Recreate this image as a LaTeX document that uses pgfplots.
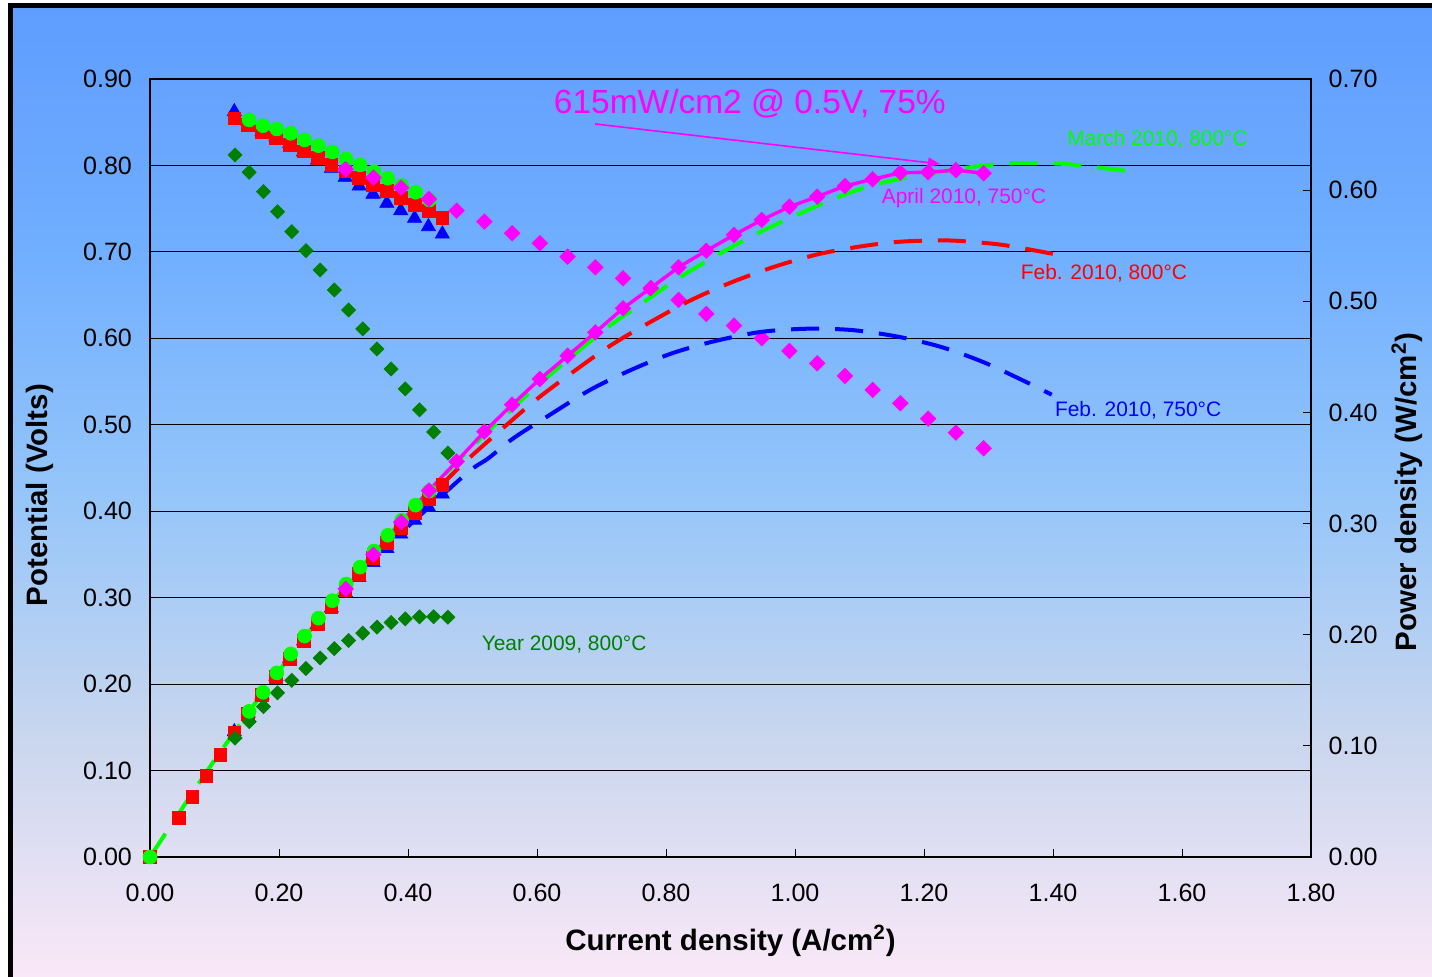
\documentclass[border=0pt]{standalone}
\usepackage{pgfplots}
\pgfplotsset{compat=1.18}
\usepackage{fontspec}
\setmainfont{Liberation Sans}
\usetikzlibrary{arrows.meta}
\definecolor{bgtop}{RGB}{95,157,255}
\definecolor{bgq3}{RGB}{112,174,255}
\definecolor{bgmid}{RGB}{148,197,250}
\definecolor{bgq1}{RGB}{200,214,238}
\definecolor{bgbot}{RGB}{250,232,248}
\definecolor{mag}{RGB}{255,0,255}
\definecolor{lgreen}{RGB}{0,255,0}
\definecolor{dgreen}{RGB}{0,128,0}
\definecolor{pred}{RGB}{255,0,0}
\definecolor{pblue}{RGB}{0,0,255}
\pgfplotsset{
  common/.style={
    at={(75bp,60bp)}, anchor=south west, scale only axis,
    width=580.5bp, height=389bp,
    xmin=0, xmax=1.8, clip=false,
    tick align=inside, major tick length=4bp,
    tick style={black, line width=0.5bp},
    axis line style={black, line width=0.6bp},
    tick label style={font=\fontsize{12.6}{14}\selectfont},
    /pgf/number format/fixed, /pgf/number format/fixed zerofill,
    /pgf/number format/precision=2, /pgf/number format/assume math mode=true,
  },
  fitline/.style={line width=2bp, dash pattern=on 14bp off 8bp, smooth, no marks},
  tri/.style={only marks, pblue, mark=triangle*, mark size=4.1bp, mark options={draw=pblue, fill=pblue, line width=0.3bp}},
  sq/.style={only marks, pred, mark=square*, mark size=3.2bp, mark options={draw=pred, fill=pred, line width=0.3bp}},
  dgd/.style={only marks, dgreen, mark=square*, mark size=2.5bp, mark options={draw=dgreen, fill=dgreen, rotate=45, line width=0.3bp}},
  circ/.style={only marks, lgreen, mark=*, mark size=3.5bp, mark options={draw=lgreen, fill=lgreen, line width=0.3bp}},
  magd/.style={mag, mark=square*, mark size=2.75bp, mark options={draw=mag, fill=mag, rotate=45, line width=0.3bp, solid}},
}
\begin{document}
\begin{tikzpicture}
\shade[top color=bgtop, bottom color=bgmid, middle color=bgq3] (5.25bp,244.25bp) rectangle (716bp,485.5bp);
\shade[top color=bgmid, bottom color=bgbot, middle color=bgq1] (5.25bp,0bp) rectangle (716bp,244.26bp);
\draw[black, line width=2.5bp] (5.25bp,-5bp) -- (5.25bp,485.5bp) -- (725bp,485.5bp);

\begin{axis}[common, ymin=0, ymax=0.9,
  ytick={0,0.1,0.2,0.3,0.4,0.5,0.6,0.7,0.8,0.9},
  xtick={0,0.2,0.4,0.6,0.8,1.0,1.2,1.4,1.6,1.8},
  xtick pos=bottom, ytick pos=left,
  ymajorgrids, grid style={black, line width=0.5bp},
  xticklabel style={yshift=-9.8bp},
  yticklabel style={xshift=-5.5bp},
]
% Feb 2010 750C voltage
\addplot[tri] coordinates {
(0.1307,0.8622)(0.1522,0.8510)(0.1737,0.8391)(0.1952,0.8333)(0.2167,0.8257)(0.2382,0.8160)(0.2597,0.8063)(0.2812,0.7967)(0.3027,0.7863)(0.3242,0.7763)(0.3457,0.7667)(0.3672,0.7562)(0.3887,0.7477)(0.4102,0.7389)(0.4317,0.7292)(0.4532,0.7207)};
% Feb 2010 800C voltage
\addplot[sq] coordinates {
(0.1307,0.8546)(0.1522,0.8469)(0.1737,0.8393)(0.1952,0.8316)(0.2167,0.8239)(0.2382,0.8163)(0.2597,0.8086)(0.2812,0.8009)(0.3027,0.7933)(0.3242,0.7856)(0.3457,0.7779)(0.3672,0.7703)(0.3887,0.7626)(0.4102,0.7549)(0.4317,0.7473)(0.4532,0.7396)};
% Year 2009 voltage
\addplot[dgd] coordinates {
(0.1318,0.8121)(0.1538,0.7921)(0.1758,0.7697)(0.1978,0.7465)(0.2198,0.7234)(0.2418,0.7014)(0.2638,0.6791)(0.2858,0.6560)(0.3078,0.6328)(0.3298,0.6109)(0.3518,0.5877)(0.3738,0.5646)(0.3958,0.5415)(0.4178,0.5172)(0.4398,0.4917)(0.4618,0.4674)};
% March 2010 voltage
\addplot[circ] coordinates {
(0.1537,0.8526)(0.1752,0.8460)(0.1967,0.8422)(0.2182,0.8372)(0.2397,0.8295)(0.2612,0.8229)(0.2827,0.8156)(0.3042,0.8075)(0.3257,0.8006)(0.3472,0.7928)(0.3687,0.7852)(0.3902,0.7766)(0.4117,0.7690)(0.4332,0.7601)};
% April 2010 voltage
\addplot[magd, only marks] coordinates {
(0.3034,0.7956)(0.3464,0.7859)(0.3894,0.7743)(0.4324,0.7612)(0.4754,0.7477)(0.5184,0.7350)(0.5614,0.7215)(0.6044,0.7100)(0.6474,0.6945)(0.6904,0.6822)(0.7334,0.6695)(0.7764,0.6570)(0.8194,0.6444)(0.8624,0.6282)(0.9054,0.6147)(0.9484,0.6001)(0.9914,0.5854)(1.0344,0.5711)(1.0774,0.5565)(1.1204,0.5403)(1.1634,0.5249)(1.2064,0.5071)(1.2494,0.4909)(1.2924,0.4728)};

\node[mag, font=\fontsize{16.8}{19}\selectfont] at (axis cs:0.930,0.871) {615mW/cm2 @ 0.5V, 75\%};
\draw[mag, line width=0.8bp, -{Triangle[length=6bp,width=5bp]}] (axis cs:0.690,0.848) -- (axis cs:1.2248,0.8017);
\node[lgreen, font=\fontsize{10.5}{12}\selectfont] at (axis cs:1.562,0.8306) {March 2010, 800°C};
\node[mag, font=\fontsize{10.5}{12}\selectfont] at (axis cs:1.262,0.7624) {April 2010, 750°C};
\node[pred, font=\fontsize{10.5}{12}\selectfont] at (axis cs:1.479,0.6756) {Feb. 2010, 800°C};
\node[pblue, font=\fontsize{10.5}{12}\selectfont] at (axis cs:1.532,0.5171) {Feb. 2010, 750°C};
\node[dgreen, font=\fontsize{10.5}{12}\selectfont] at (axis cs:0.642,0.2453) {Year 2009, 800°C};

\node[font=\fontsize{14.8}{17}\selectfont\bfseries, anchor=center] at (axis description cs:0.5,-0.108) {Current density (A/cm\textsuperscript{2})};
\node[font=\fontsize{14.8}{17}\selectfont\bfseries, anchor=center, rotate=90] at (axis description cs:-0.0947,0.465) {Potential (Volts)};
\node[font=\fontsize{14.8}{17}\selectfont\bfseries, anchor=center, rotate=90] at (axis description cs:1.0827,0.469) {Power density (W/cm\textsuperscript{2})};
\end{axis}

\begin{axis}[common, ymin=0, ymax=0.7,
  ytick={0,0.1,0.2,0.3,0.4,0.5,0.6,0.7},
  axis y line*=right, axis x line=none,
  yticklabel style={xshift=5.3bp},
]
% fitted curves
\addplot[fitline, pblue] coordinates {
(0.4,0.2974)(0.491,0.3452)(0.5245,0.3587)(0.564,0.3770)(0.6228,0.3989)(0.683,0.4205)(0.7457,0.4382)(0.8108,0.4535)(0.878,0.4645)(0.9468,0.4724)(1.017,0.4753)(1.0868,0.4742)(1.1566,0.4685)(1.2248,0.4592)(1.2915,0.4454)(1.3558,0.4281)(1.398,0.416)};
\addplot[fitline, pred] coordinates {
(0.4,0.3038)(0.4806,0.3512)(0.5457,0.3851)(0.600,0.4121)(0.6558,0.4364)(0.714,0.4602)(0.7744,0.4809)(0.8372,0.5006)(0.9008,0.5169)(0.967,0.5309)(1.034,0.5421)(1.1008,0.5493)(1.1628,0.5536)(1.240,0.5547)(1.3127,0.5514)(1.3617,0.5468)(1.4005,0.5426)};
\addplot[fitline, lgreen] coordinates {
(0,0)(0.1,0.087)(0.2,0.1675)(0.3,0.2414)(0.4,0.3087)(0.5,0.3695)(0.6,0.4237)(0.7028,0.4735)(0.761,0.4974)(0.819,0.5207)(0.8798,0.5417)(0.9419,0.5612)(1.0062,0.5785)(1.062,0.5927)(1.12,0.6045)(1.18,0.612)(1.24,0.618)(1.30,0.6226)(1.351,0.6244)(1.42,0.6235)(1.4904,0.6189)(1.5132,0.6175)};
% power markers
\addplot[tri] coordinates {
(0.1307,0.1127)(0.1522,0.1295)(0.1737,0.1458)(0.1952,0.1627)(0.2167,0.1789)(0.2382,0.1944)(0.2597,0.2094)(0.2812,0.2240)(0.3027,0.2380)(0.3242,0.2517)(0.3457,0.2650)(0.3672,0.2777)(0.3887,0.2906)(0.4102,0.3031)(0.4317,0.3148)(0.4532,0.3266)};
\addplot[sq] coordinates {
(0,0)(0.0445,0.0354)(0.0656,0.0543)(0.0873,0.0732)(0.1090,0.0918)(0.1307,0.1117)(0.1522,0.1289)(0.1737,0.1458)(0.1952,0.1623)(0.2167,0.1785)(0.2382,0.1944)(0.2597,0.2100)(0.2812,0.2252)(0.3027,0.2401)(0.3242,0.2547)(0.3457,0.2689)(0.3672,0.2829)(0.3887,0.2964)(0.4102,0.3097)(0.4317,0.3226)(0.4532,0.3352)};
\addplot[dgd] coordinates {
(0.1318,0.1070)(0.1538,0.1218)(0.1758,0.1353)(0.1978,0.1477)(0.2198,0.1590)(0.2418,0.1696)(0.2638,0.1791)(0.2858,0.1875)(0.3078,0.1948)(0.3298,0.2015)(0.3518,0.2068)(0.3738,0.2110)(0.3958,0.2143)(0.4178,0.2161)(0.4398,0.2162)(0.4618,0.2158)};
\addplot[circ] coordinates {
(0,0)(0.1537,0.1310)(0.1752,0.1482)(0.1967,0.1657)(0.2182,0.1827)(0.2397,0.1988)(0.2612,0.2149)(0.2827,0.2306)(0.3042,0.2456)(0.3257,0.2608)(0.3472,0.2753)(0.3687,0.2895)(0.3902,0.3030)(0.4117,0.3166)(0.4332,0.3293)};
\addplot[magd, line width=1.7bp] coordinates {
(0.3034,0.2412)(0.3464,0.2720)(0.3894,0.3013)(0.4324,0.3297)(0.4754,0.3559)(0.5184,0.3827)(0.5614,0.4070)(0.6044,0.4300)(0.6474,0.4510)(0.6904,0.4720)(0.7334,0.4937)(0.7764,0.5120)(0.8194,0.5306)(0.8624,0.5455)(0.9054,0.5597)(0.9484,0.5732)(0.9914,0.5851)(1.0344,0.5941)(1.0774,0.6037)(1.1204,0.6098)(1.1634,0.6157)(1.2064,0.6161)(1.2494,0.6180)(1.2924,0.6152)};
\end{axis}
\pgfresetboundingbox
\path (0,0) rectangle (716bp,488.5bp);
\end{tikzpicture}
\end{document}
